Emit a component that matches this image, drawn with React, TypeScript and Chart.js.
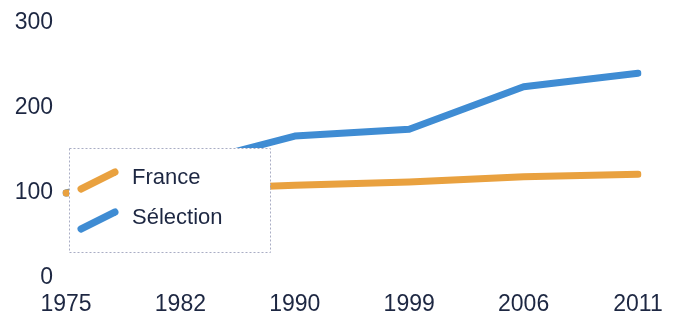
import React, { useEffect, useRef } from "react";
import { Chart, registerables } from "chart.js";

Chart.register(...registerables);

const years = ["1975", "1982", "1990", "1999", "2006", "2011"];
const france = [100, 104, 109, 113, 119, 122];
const selection = [100, 132, 167, 175, 225, 241];
const yTicks = [0, 100, 200, 300];

const BLUE = "#3f8cd3";
const ORANGE = "#e9a13f";
const TEXT = "#1d2742";
const FONT = "'Liberation Sans', Arial, sans-serif";

const legendPlugin = {
  id: "boxLegend",
  afterDatasetsDraw(chart: any) {
    const ctx = chart.ctx;
    const x0 = 69, y0 = 148, w = 201, h = 104;
    ctx.save();
    ctx.fillStyle = "#ffffff";
    ctx.fillRect(x0, y0, w, h);
    ctx.strokeStyle = "#a9adc4";
    ctx.lineWidth = 1;
    ctx.setLineDash([2, 2]);
    ctx.strokeRect(x0 + 0.5, y0 + 0.5, w, h);
    ctx.setLineDash([]);
    const rows = [176, 216];
    chart.data.datasets.forEach((ds: any, i: number) => {
      const cy = rows[i];
      ctx.strokeStyle = ds.borderColor;
      ctx.lineWidth = 7;
      ctx.lineCap = "round";
      ctx.beginPath();
      ctx.moveTo(81, cy + 13);
      ctx.lineTo(115, cy - 4);
      ctx.stroke();
      ctx.fillStyle = TEXT;
      ctx.font = "22px " + FONT;
      ctx.textBaseline = "middle";
      ctx.textAlign = "left";
      ctx.fillText(ds.label, 132, cy + 2);
    });
    ctx.restore();
  },
};

export default function App() {
  const ref = useRef<HTMLCanvasElement>(null);
  useEffect(() => {
    document.body.style.margin = "0";
    const chart = new Chart(ref.current!, {
      type: "line",
      data: {
        labels: years,
        datasets: [
          {
            label: "France",
            data: france,
            borderColor: ORANGE,
            backgroundColor: ORANGE,
            borderWidth: 7,
            pointRadius: 0,
            borderCapStyle: "round",
            borderJoinStyle: "round",
            tension: 0,
          },
          {
            label: "Sélection",
            data: selection,
            borderColor: BLUE,
            backgroundColor: BLUE,
            borderWidth: 7,
            pointRadius: 0,
            borderCapStyle: "round",
            borderJoinStyle: "round",
            tension: 0,
          },
        ],
      },
      options: {
        responsive: false,
        animation: false,
        layout: { padding: { left: 0, top: 23, right: 41, bottom: 0 } },
        plugins: { legend: { display: false }, tooltip: { enabled: false } },
        scales: {
          x: {
            offset: false,
            grid: { display: false, drawTicks: false },
            border: { display: false },
            ticks: { color: TEXT, font: { size: 23, family: FONT }, padding: 13, maxRotation: 0 },
            afterFit: (s: any) => { s.height = 37; },
          },
          y: {
            min: 0,
            max: 300,
            grid: { display: false, drawTicks: false },
            border: { display: false },
            afterBuildTicks: (s: any) => { s.ticks = yTicks.map((v) => ({ value: v })); },
            ticks: { color: TEXT, font: { size: 23, family: FONT, lineHeight: 0.5 }, padding: 13 },
            afterFit: (s: any) => { s.width = 66; s.paddingTop = 0; s.paddingBottom = 0; },
          },
        },
      },
      plugins: [legendPlugin],
    });
    return () => chart.destroy();
  }, []);
  return (
    <div style={{ position: "absolute", left: 0, top: 0, width: 679, height: 315, background: "#fff" }}>
      <canvas ref={ref} width={679} height={315} />
    </div>
  );
}
